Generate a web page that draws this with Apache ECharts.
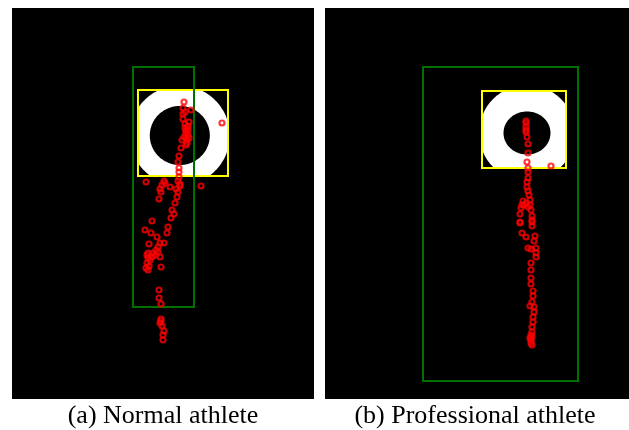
<!DOCTYPE html>
<html><head><meta charset="utf-8">
<script src="https://cdn.jsdelivr.net/npm/echarts@6/dist/echarts.min.js"></script>
<style>html,body{margin:0;padding:0;background:#fff}#c{width:629px;height:430px}</style>
</head><body><div id="c"></div>
<script>
// captions
const captions = ['(a) Normal athlete', '(b) Professional athlete'];

// tracked ball positions (image pixel coordinates)
const normalPoints = [
[184,102],[191,110],[185,112],[183,114],[183,119],[222,123],[187,127],[186,131],[188,135],[184,137],
[187,140],[182,140],[186,145],[181,148],[179,156],[178,162],[179,168],[179,172],[179,177],[178,181],
[146,182],[201,186],[164,181],[162,185],[160,189],[170,187],[180,186],[178,192],[161,192],[159,199],
[177,197],[175,203],[172,210],[174,214],[171,218],[152,221],[168,227],[145,230],[151,233],[167,233],
[157,237],[164,243],[160,243],[149,244],[148,253],[153,253],[158,252],[160,257],[148,258],[152,257],
[147,263],[146,268],[148,270],[161,267],[159,290],[159,298],[161,304],[161,319],[160,323],[162,326],
[164,331],[163,335],[163,340],[185,124],[188,130],[186,138],[180,184],[176,189],
[189,122],[188,126],[186,133],[189,138],[187,143],[185,128],[147,255],[150,260],[155,255],[149,266],
[156,250],[158,247],[161,321],[165,183],[183,108]
];
const proPoints = [
[526,121],[526,123],[526,127],[526,130],[526,132],[527,137],[528,144],[528,153],[527,162],[551,166],
[528,168],[528,172],[528,178],[527,182],[527,187],[528,191],[529,195],[530,200],[523,201],[522,205],
[524,205],[530,205],[531,210],[521,208],[520,214],[532,216],[520,222],[532,220],[520,223],[532,222],
[532,226],[522,233],[526,237],[535,236],[534,241],[528,248],[531,249],[536,248],[536,253],[536,257],
[531,263],[531,270],[531,278],[531,284],[533,291],[533,296],[532,302],[530,306],[534,307],[534,312],
[533,317],[533,322],[532,327],[532,332],[531,335],[531,340],[532,345],[531,343],[530,338],[532,337],
[526,203],[528,207]
];

// target rings: centre x, centre y, outer radius, inner radius x, inner radius y
const normalTarget = [179.8, 135.5, 50, 30, 29.5];
const proTarget = [527, 133, 48, 23.5, 21.5];
// detection boxes: x1, y1, x2, y2
const normalTargetBox = [138, 90, 228, 176];
const proTargetBox = [482, 91, 566, 168];
const normalBodyBox = [133, 67, 194, 307];
const proBodyBox = [423, 67, 578, 381];
// axis ranges of each panel
const panelX = [[12, 314], [325, 629]];
const panelY = [8, 399];

function ringRenderer(box) {
  return function (params, api) {
    const cx = api.value(0), cy = api.value(1), R = api.value(2), rx = api.value(3), ry = api.value(4);
    const outer = [], inner = [];
    const N = 160;
    for (let i = 0; i < N; i++) {
      const t = i / N * Math.PI * 2;
      let x = cx + R * Math.cos(t), y = cy + R * Math.sin(t);
      x = Math.min(Math.max(x, box[0]), box[2]);
      y = Math.min(Math.max(y, box[1]), box[3]);
      outer.push(api.coord([x, y]));
      inner.push(api.coord([cx + rx * Math.cos(t), cy + ry * Math.sin(t)]));
    }
    return {type: 'group', children: [
      {type: 'polygon', shape: {points: outer}, style: {fill: '#ffffff'}},
      {type: 'polygon', shape: {points: inner}, style: {fill: '#000000'}}
    ]};
  };
}
function rectRenderer(color) {
  return function (params, api) {
    const p1 = api.coord([api.value(0), api.value(1)]);
    const p2 = api.coord([api.value(2), api.value(3)]);
    return {type: 'rect', shape: {x: p1[0], y: p1[1], width: p2[0] - p1[0], height: p2[1] - p1[1]},
      style: {fill: 'none', stroke: color, lineWidth: 2}};
  };
}

const chart = echarts.init(document.getElementById('c'), null, {renderer: 'canvas'});
const grids = [
  {left: 12, top: 8, width: 302, height: 391, show: true, backgroundColor: '#000', borderWidth: 0},
  {left: 325, top: 8, width: 304, height: 391, show: true, backgroundColor: '#000', borderWidth: 0}
];
const xAxes = panelX.map((r, i) => ({type: 'value', gridIndex: i, min: r[0], max: r[1], show: false}));
const yAxes = panelX.map((r, i) => ({type: 'value', gridIndex: i, min: panelY[0], max: panelY[1], inverse: true, show: false}));

const panels = [
  {target: normalTarget, tbox: normalTargetBox, bbox: normalBodyBox, pts: normalPoints},
  {target: proTarget, tbox: proTargetBox, bbox: proBodyBox, pts: proPoints}
];
const series = [];
panels.forEach((p, i) => {
  series.push({type: 'custom', xAxisIndex: i, yAxisIndex: i, clip: false, silent: true,
    renderItem: ringRenderer(p.tbox), data: [p.target], encode: {x: 0, y: 1}});
  series.push({type: 'custom', xAxisIndex: i, yAxisIndex: i, clip: false, silent: true,
    renderItem: rectRenderer('#ffff00'), data: [p.tbox], encode: {x: [0, 2], y: [1, 3]}});
  series.push({type: 'custom', xAxisIndex: i, yAxisIndex: i, clip: false, silent: true,
    renderItem: rectRenderer('#007000'), data: [p.bbox], encode: {x: [0, 2], y: [1, 3]}});
  series.push({type: 'scatter', xAxisIndex: i, yAxisIndex: i, silent: true, symbol: 'circle', symbolSize: 5,
    itemStyle: {color: 'rgba(0,0,0,0)', borderColor: '#ff0000', borderWidth: 2.2}, data: p.pts});
});

chart.setOption({
  animation: false,
  backgroundColor: '#ffffff',
  grid: grids, xAxis: xAxes, yAxis: yAxes, series: series,
  graphic: [
    {type: 'text', x: 163, y: 416, style: {text: captions[0], fontFamily: 'Liberation Serif', fontSize: 26, fill: '#000', align: 'center', verticalAlign: 'middle'}},
    {type: 'text', x: 475, y: 416, style: {text: captions[1], fontFamily: 'Liberation Serif', fontSize: 26, fill: '#000', align: 'center', verticalAlign: 'middle'}}
  ]
});
</script>
</body></html>
